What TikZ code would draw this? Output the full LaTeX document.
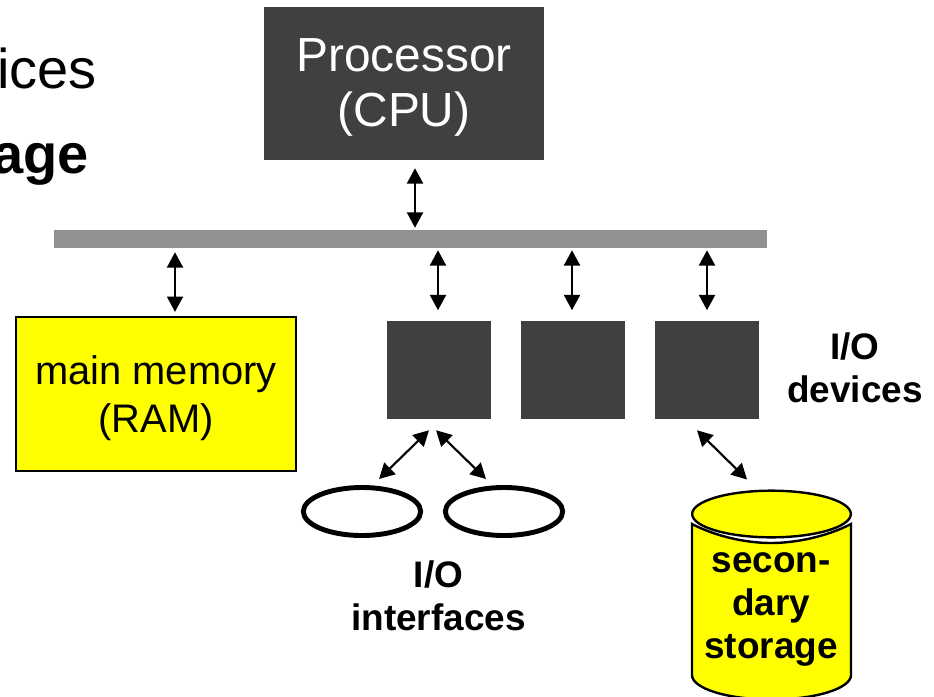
\documentclass[tikz,border=0pt]{standalone}
\usepackage{fontspec}
\setmainfont{Liberation Sans}
\usetikzlibrary{arrows.meta,calc,shapes.geometric}
\definecolor{boxgray}{HTML}{404040}
\definecolor{busgray}{HTML}{919191}
\definecolor{memyellow}{HTML}{FFFF00}
\begin{document}
\begin{tikzpicture}[x=.75pt,y=-.75pt,
  darkbox/.style={fill=boxgray,draw=none,inner sep=0,minimum width=78pt,minimum height=73.5pt},
  link/.style={{Triangle[length=11.5pt,width=12pt]}-{Triangle[length=11.5pt,width=12pt]},line width=1.6pt},
  disk/.style={ellipse,draw=black,fill=white,line width=3.7pt,inner sep=0,minimum width=88pt,minimum height=36pt},
  plain/.style={align=center,inner sep=0,font=\fontsize{27.7pt}{32pt}\selectfont\bfseries}]
\useasboundingbox (0,0) rectangle (934,696);
% left text
\node[anchor=base east,inner sep=0,font=\fontsize{42pt}{46pt}\selectfont] (ices) at (97,88) {ices};
\node[anchor=base east,inner sep=0,font=\fontsize{42pt}{46pt}\selectfont\bfseries] (age) at (89,173) {age};
% cpu and bus
\node[fill=boxgray,inner sep=0,minimum width=210pt,minimum height=114.75pt] (cpu) at (404,83.5) {};
\node[align=center,inner sep=0,text=white,font=\fontsize{35.9pt}{41pt}\selectfont] (cpulabel) at (404,87.5) {Processor\\(CPU)};
\node[fill=busgray,inner sep=0,minimum width=534.75pt,minimum height=13.5pt] (bus) at (410.5,239) {};
% memory
\node[fill=memyellow,draw=black,line width=1.5pt,inner sep=0,minimum width=210pt,minimum height=115pt] (ram) at (155.75,394) {};
\node[align=center,inner sep=0,font=\fontsize{29.9pt}{36pt}\selectfont] (ramlabel) at (156,398) {main memory\\(RAM)};
% io boxes
\node[darkbox] (box1) at (439,370) {};
\node[darkbox] (box2) at (573,370) {};
\node[darkbox] (box3) at (707,370) {};
\node[plain] (devlabel) at (855,368) {I/O\\devices};
% interfaces
\node[disk] (disk1) at (362,511.5) {};
\node[disk] (disk2) at (504,511.5) {};
\node[plain] (iflabel) at (438.5,596) {I/O\\interfaces};
% storage
\draw[fill=memyellow,line width=1.8pt] (692,524) .. controls (715,536) and (745,543) .. (771,543) .. controls (797,543) and (828,536) .. (851,524) -- (851,675) arc[start angle=0,end angle=180,x radius=79.5,y radius=24.5] -- cycle;
\node[ellipse,fill=memyellow,draw=black,line width=1.8pt,inner sep=0,minimum width=119pt,minimum height=35pt] (stortop) at (771.5,514) {};
\node[plain] (storlabel) at (771,609.5) {secon-\\dary\\storage};
% links
\draw[link] ($(cpu.south)+(11,8)$) -- ($(bus.north)+(4.5,-2)$);
\draw[link] ($(bus.south)+(-235.5,4)$) -- ($(ram.north)+(19.25,-4.5)$);
\draw[link] ($(bus.south)+(27.5,2)$) -- ($(box1.north)+(-1,-10.5)$);
\draw[link] ($(bus.south)+(161.5,2)$) -- ($(box2.north)+(-1,-10.5)$);
\draw[link] ($(bus.south)+(296.5,2)$) -- ($(box3.north)+(0,-10.5)$);
\draw[link] ($(box1.south)+(-10,11)$) -- ($(disk1.north)+(17,-6)$);
\draw[link] ($(box1.south)+(-3,11)$) -- ($(disk2.north)+(-18,-6)$);
\draw[link] ($(box3.south)+(-10,11)$) -- ($(stortop.north)+(-24.5,-10)$);
\end{tikzpicture}
\end{document}
